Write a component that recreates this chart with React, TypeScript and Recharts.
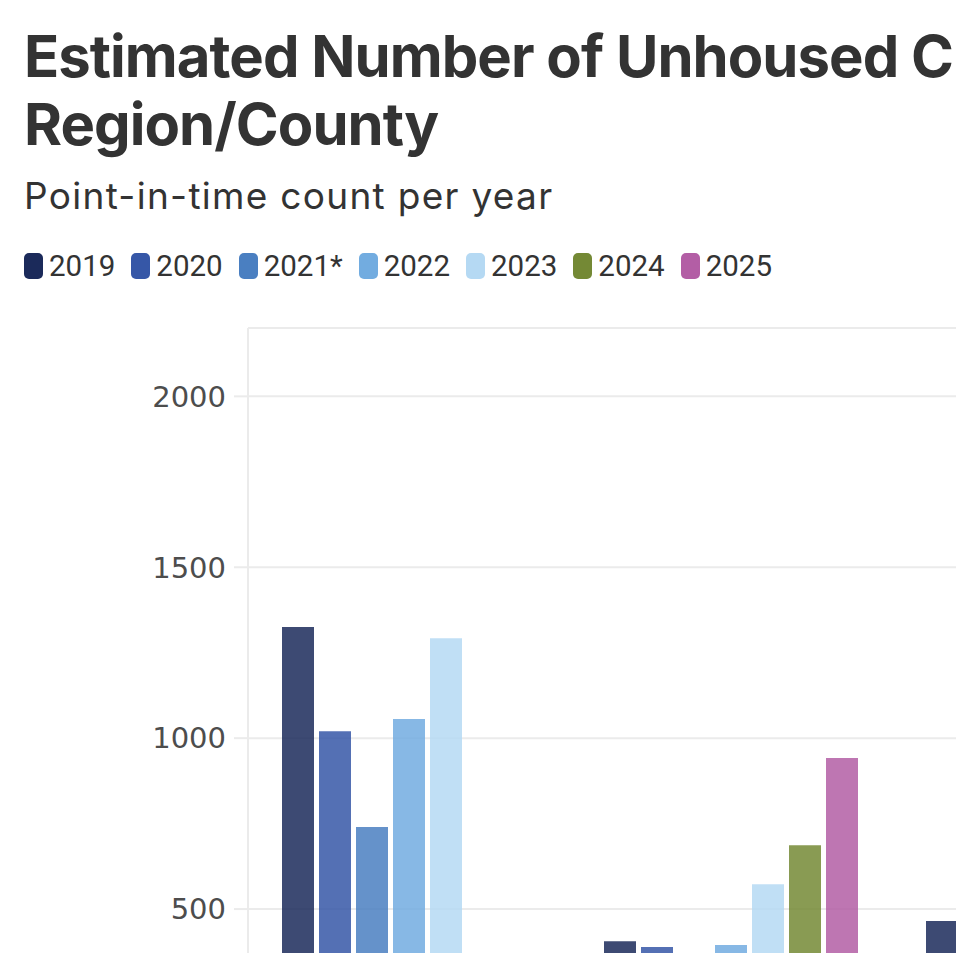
import React from 'react';
import { BarChart, Bar, XAxis, YAxis, CartesianGrid } from 'recharts';

const REGIONS = ['Region A', 'Region B', 'Region C'];
const YEARS = ['2019', '2020', '2021*', '2022', '2023', '2024', '2025'];
const COLORS = ['#1b2a5a', '#3657a7', '#4a7fc1', '#72ace0', '#b5d9f3', '#748935', '#b35ea5'];

// values per year, one entry per region (null = not reported / outside the view)
const V2019 = [1325, 406, 465];
const V2020 = [1020, 389, null];
const V2021 = [740, null, null];
const V2022 = [1056, 395, null];
const V2023 = [1292, 573, null];
const V2024 = [null, 687, null];
const V2025 = [null, 942, null];
const SERIES = [V2019, V2020, V2021, V2022, V2023, V2024, V2025];

const Y_TICKS = [0, 500, 1000, 1500, 2000];

const data = REGIONS.map((name, i) => {
  const row: Record<string, string | number | null> = { name };
  YEARS.forEach((y, j) => {
    row[y] = SERIES[j][i];
  });
  return row;
});

const GRID = '#ebebeb';

export default function App() {
  return (
    <div
      style={{
        position: 'fixed',
        left: 0,
        top: 0,
        width: 956,
        height: 953,
        overflow: 'hidden',
        background: '#fff',
        color: '#333',
      }}
    >
      <div
        style={{
          position: 'absolute',
          left: 24,
          top: 22,
          width: 1300,
          fontFamily: 'Inter, sans-serif',
          fontWeight: 700,
          fontSize: 58,
          lineHeight: '68px',
          letterSpacing: -0.95,
        }}
      >
        Estimated Number of Unhoused Children by
        <br />
        Region/County
      </div>
      <div
        style={{
          position: 'absolute',
          left: 24,
          top: 172,
          fontFamily: 'Inter, sans-serif',
          fontSize: 37,
          lineHeight: '48px',
          letterSpacing: 1.3,
        }}
      >
        Point-in-time count per year
      </div>
      <div
        style={{
          position: 'absolute',
          left: 24,
          top: 253,
          display: 'flex',
          alignItems: 'center',
          fontFamily: 'Roboto, sans-serif',
          fontSize: 29.5,
          lineHeight: '26px',
        }}
      >
        {YEARS.map((y, i) => (
          <div key={y} style={{ display: 'flex', alignItems: 'center', marginRight: 16 }}>
            <span
              style={{
                display: 'inline-block',
                width: 19,
                height: 26,
                borderRadius: 5,
                background: COLORS[i],
                marginRight: 6,
              }}
            />
            <span>{y}</span>
          </div>
        ))}
      </div>
      <div style={{ position: 'absolute', left: 0, top: 300 }}>
        <BarChart
          width={1240}
          height={840}
          data={data}
          margin={{ top: 28, right: 26, bottom: 0, left: 0 }}
          barSize={32}
          barGap={5}
        >
          <CartesianGrid vertical={false} stroke={GRID} strokeWidth={2} />
          <XAxis dataKey="name" height={60} axisLine={false} tickLine={false} />
          <YAxis
            width={248}
            domain={[0, 2200]}
            ticks={Y_TICKS}
            tickSize={14}
            tickMargin={8}
            axisLine={{ stroke: GRID, strokeWidth: 2 }}
            tickLine={{ stroke: GRID, strokeWidth: 2 }}
            tick={{ fill: '#4d4d4d', fontSize: 29, fontFamily: 'DejaVu Sans, sans-serif' }}
          />
          {YEARS.map((y, i) => (
            <Bar key={y} dataKey={y} fill={COLORS[i]} fillOpacity={0.85} isAnimationActive={false} />
          ))}
        </BarChart>
      </div>
    </div>
  );
}
